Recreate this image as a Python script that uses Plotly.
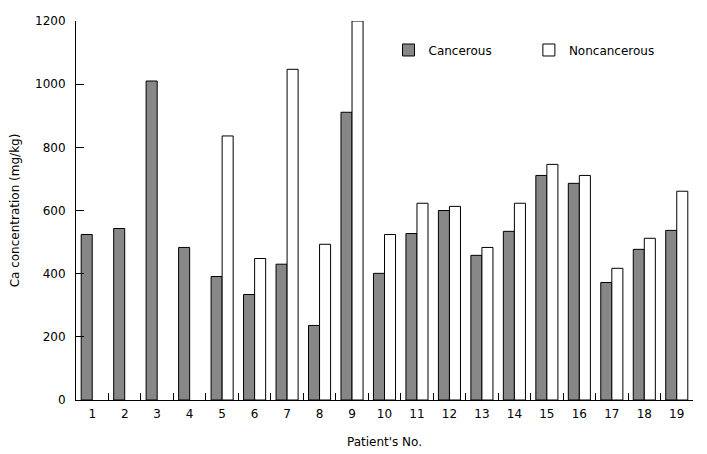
import plotly.graph_objects as go

patients = [str(i) for i in range(1, 20)]
cancerous = [524, 543, 1010, 483, 391, 334, 430, 236, 911, 401, 527, 600, 458, 534, 711, 686, 372, 477, 537]
noncancerous = [None, None, None, None, 836, 448, 1047, 493, 1200, 524, 623, 613, 483, 623, 746, 711, 417, 512, 661]
y_ticks = [0, 200, 400, 600, 800, 1000, 1200]

FONT = "DejaVu Sans"

fig = go.Figure()
fig.add_trace(go.Bar(
    x=patients, y=cancerous, name="Cancerous", legend="legend",
    marker=dict(color="#878787", line=dict(color="black", width=1)),
))
fig.add_trace(go.Bar(
    x=patients, y=noncancerous, name="Noncancerous", legend="legend2",
    marker=dict(color="white", line=dict(color="black", width=1)),
))

leg_common = dict(
    orientation="h", xanchor="left", yanchor="middle",
    bgcolor="rgba(0,0,0,0)", font=dict(size=12, family=FONT),
)
fig.update_layout(
    width=707, height=454,
    margin=dict(l=68, r=22, t=13, b=62, autoexpand=False),
    plot_bgcolor="white", paper_bgcolor="white",
    font=dict(family=FONT, size=12, color="black"),
    barmode="group", bargap=0.32, bargroupgap=0,
    showlegend=True,
    legend=dict(x=0.5065, y=0.9235, **leg_common),
    legend2=dict(x=0.734, y=0.9235, **leg_common),
)
fig.update_xaxes(
    type="category", showline=True, linecolor="black", linewidth=1,
    ticks="inside", tickson="boundaries", ticklen=7, tickcolor="black",
    showgrid=False, zeroline=False, automargin=False, ticklabelstandoff=3,
    title=dict(text="Patient's No.", font=dict(size=12), standoff=17),
    tickfont=dict(size=12),
)
fig.update_yaxes(
    range=[0, 1200], tickvals=y_ticks, showline=True, linecolor="black", linewidth=1,
    ticks="inside", ticklen=8, tickcolor="black", showgrid=False, zeroline=False,
    automargin=False, ticklabelstandoff=7,
    title=dict(text="Ca concentration (mg/kg)", font=dict(size=12), standoff=12),
    tickfont=dict(size=12),
)

fig.write_html("out.html")
